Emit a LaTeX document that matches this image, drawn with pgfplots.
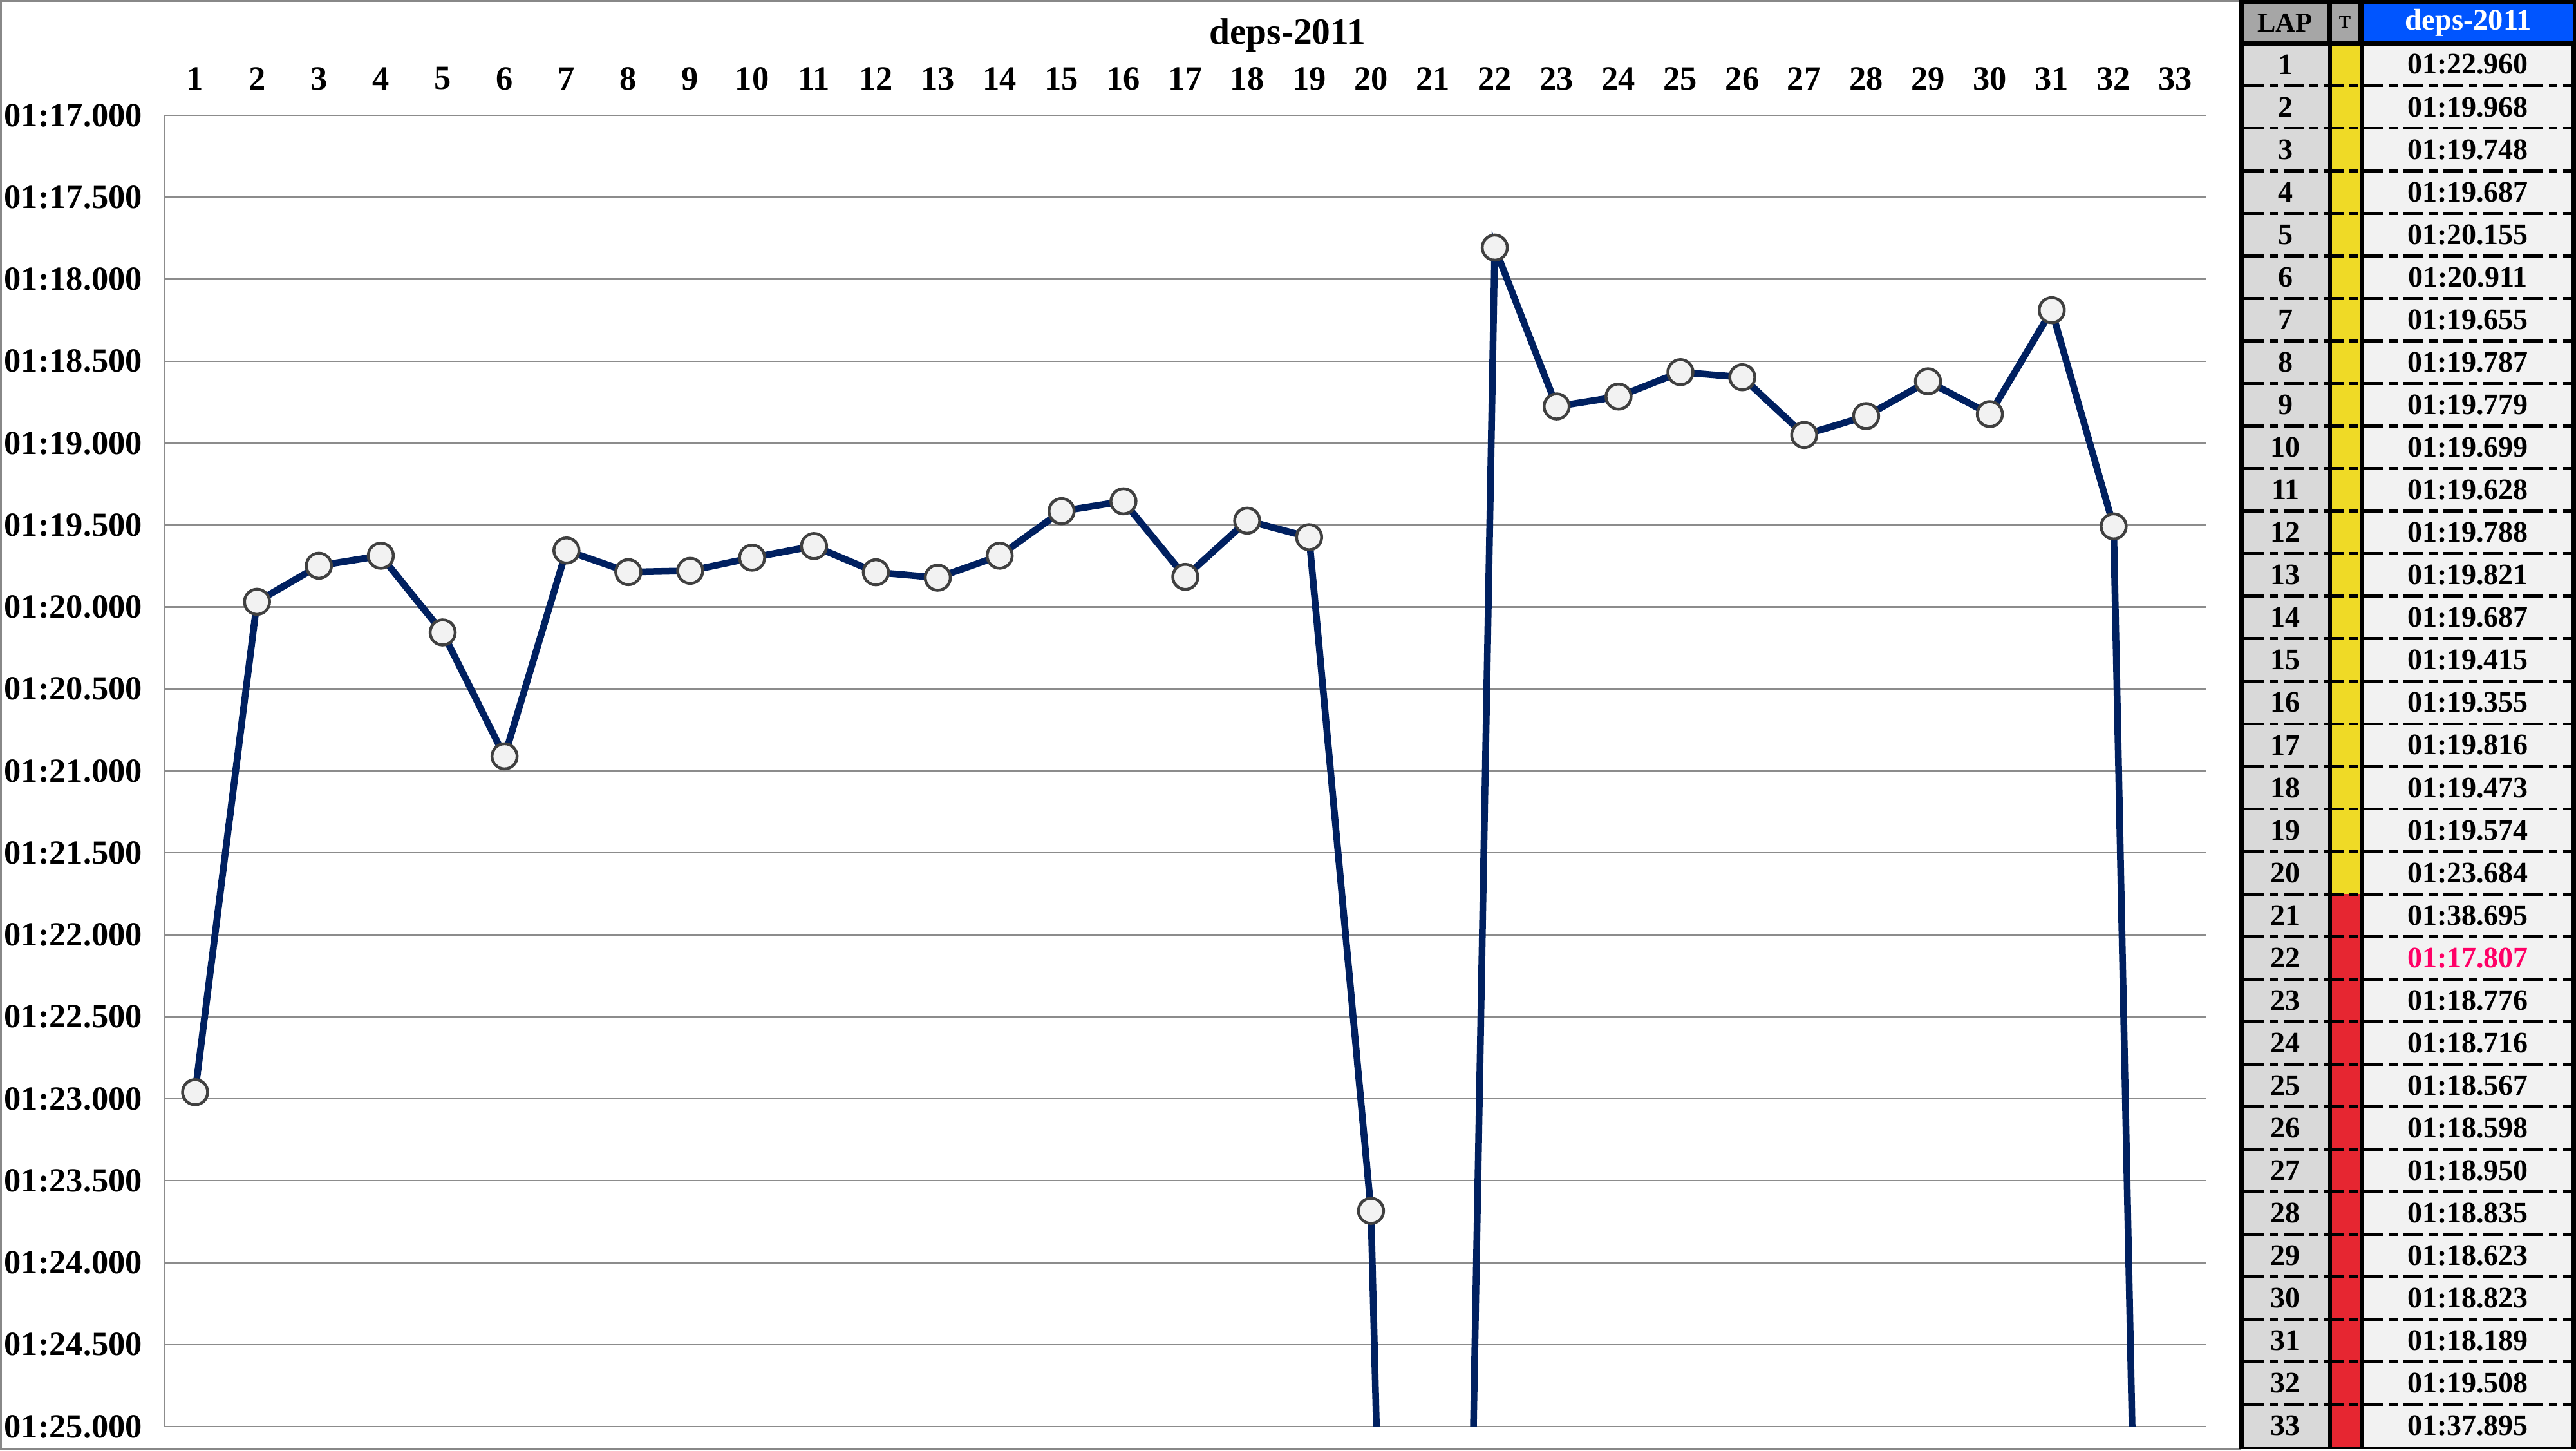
\documentclass[border=0pt]{standalone}
\usepackage{pgfplots}
\pgfplotsset{compat=1.18}
\usepackage{fontspec}
\setmainfont{Liberation Serif}
\definecolor{navy}{HTML}{002060}
\definecolor{markfill}{HTML}{F2F2F2}
\definecolor{markdraw}{HTML}{404040}
\definecolor{gridgray}{HTML}{8C8C8C}
\definecolor{framegray}{HTML}{888888}
\definecolor{hdrgray}{HTML}{A6A6A6}
\definecolor{hdrblue}{HTML}{0055FF}
\definecolor{lapgray}{HTML}{D9D9D9}
\definecolor{valgray}{HTML}{F2F2F2}
\definecolor{tyellow}{HTML}{EFDA26}
\definecolor{tred}{HTML}{E62631}
\definecolor{bestpink}{HTML}{FF0066}
\begin{document}
\begin{tikzpicture}
\useasboundingbox (0,0) rectangle (800.2pt,450.4pt);
% chart frame and table (pixel units, origin top-left)
\begin{scope}[shift={(0pt,450.4pt)}, x=0.2pt, y=-0.2pt]
  \draw[framegray, line width=0.6pt] (3480,2) -- (2,2) -- (2,2250) -- (3480,2250);
  \fill[black] (3478,0) rectangle (4001,2250);
  \fill[hdrgray] (3485,6) rectangle (3614,63);
  \fill[hdrgray] (3622,6) rectangle (3663,63);
  \fill[hdrblue] (3671,6) rectangle (3997,63);
  \node[font=\bfseries\fontsize{8.5}{10}\selectfont, inner sep=0pt] at (3549,35) {LAP};
  \node[font=\bfseries\fontsize{5.5}{6}\selectfont, inner sep=0pt] at (3642,35) {T};
  \node[font=\bfseries\fontsize{9.3}{10}\selectfont, text=white, inner sep=0pt] at (3834,35) {deps-2011};
  \foreach \i/\v in {1/01:22.960,2/01:19.968,3/01:19.748,4/01:19.687,5/01:20.155,6/01:20.911,7/01:19.655,8/01:19.787,9/01:19.779,10/01:19.699,11/01:19.628,12/01:19.788,13/01:19.821,14/01:19.687,15/01:19.415,16/01:19.355,17/01:19.816,18/01:19.473,19/01:19.574,20/01:23.684,21/01:38.695,22/01:17.807,23/01:18.776,24/01:18.716,25/01:18.567,26/01:18.598,27/01:18.950,28/01:18.835,29/01:18.623,30/01:18.823,31/01:18.189,32/01:19.508,33/01:37.895} {
    \pgfmathsetmacro{\top}{67+66.06*(\i-1)+(\i==1 ? 5 : 0)}
    \pgfmathsetmacro{\bot}{67+66.06*\i}
    \pgfmathsetmacro{\mid}{67+66.06*(\i-0.5)}
    \ifnum\i<21 \def\tcol{tyellow}\else \def\tcol{tred}\fi
    \ifnum\i=22 \def\vcol{bestpink}\else \def\vcol{black}\fi
    \fill[lapgray] (3485,\top) rectangle (3616,\bot);
    \fill[\tcol] (3622,\top) rectangle (3665,\bot);
    \fill[valgray] (3671,\top) rectangle (3994,\bot);
    \node[font=\bfseries\fontsize{9.2}{10}\selectfont, inner sep=0pt] at (3550,\mid) {\i};
    \node[font=\bfseries\fontsize{9.2}{10}\selectfont, inner sep=0pt, text=\vcol] at (3833,\mid) {\v};
  }
  \foreach \k in {1,...,32} {
    \pgfmathsetmacro{\yy}{67+66.06*\k}
    \draw[black, line width=0.95pt, dash pattern=on 6.3pt off 1.8pt on 2.5pt off 1.8pt] (3485,\yy) -- (3994,\yy);
  }
\end{scope}
\begin{axis}[
  at={(51pt,7.4pt)}, anchor=south west,
  width=634.4pt, height=407.2pt, scale only axis,
  xmin=0.5, xmax=33.5, ymin=77, ymax=85, y dir=reverse,
  xtick={1,...,33},
  ytick={77,77.5,78,78.5,79,79.5,80,80.5,81,81.5,82,82.5,83,83.5,84,84.5,85},
  yticklabels={01:17.000,01:17.500,01:18.000,01:18.500,01:19.000,01:19.500,01:20.000,01:20.500,01:21.000,01:21.500,01:22.000,01:22.500,01:23.000,01:23.500,01:24.000,01:24.500,01:25.000},
  xticklabel pos=upper,
  major tick length=0pt,
  axis line style={draw=none},
  ymajorgrids, grid style={color=gridgray, line width=0.45pt},
  tick label style={font=\bfseries\fontsize{10.5}{12}\selectfont},
  /pgf/number format/assume math mode=true,
  yticklabel style={anchor=east, inner sep=0pt, xshift=-6.6pt},
  xticklabel style={anchor=center, inner sep=0pt, yshift=11.4pt},
  every axis title shift=0pt,
  title={deps-2011},
  title style={at={(axis description cs:0.550,1.0545)}, anchor=base, inner sep=0pt, font=\bfseries\fontsize{11.5}{13}\selectfont},
]
\draw[gridgray, line width=0.45pt] (rel axis cs:0,0) -- (rel axis cs:0,1);
\addplot[color=navy, line width=2.1pt, mark=*, mark size=3.9pt,
  mark options={fill=markfill, draw=markdraw, line width=0.9pt}]
  table[x=lap, y=t] {
lap t
1 82.960
2 79.968
3 79.748
4 79.687
5 80.155
6 80.911
7 79.655
8 79.787
9 79.779
10 79.699
11 79.628
12 79.788
13 79.821
14 79.687
15 79.415
16 79.355
17 79.816
18 79.473
19 79.574
20 83.684
21 98.695
22 77.807
23 78.776
24 78.716
25 78.567
26 78.598
27 78.950
28 78.835
29 78.623
30 78.823
31 78.189
32 79.508
33 97.895
};
\end{axis}
\end{tikzpicture}
\end{document}
